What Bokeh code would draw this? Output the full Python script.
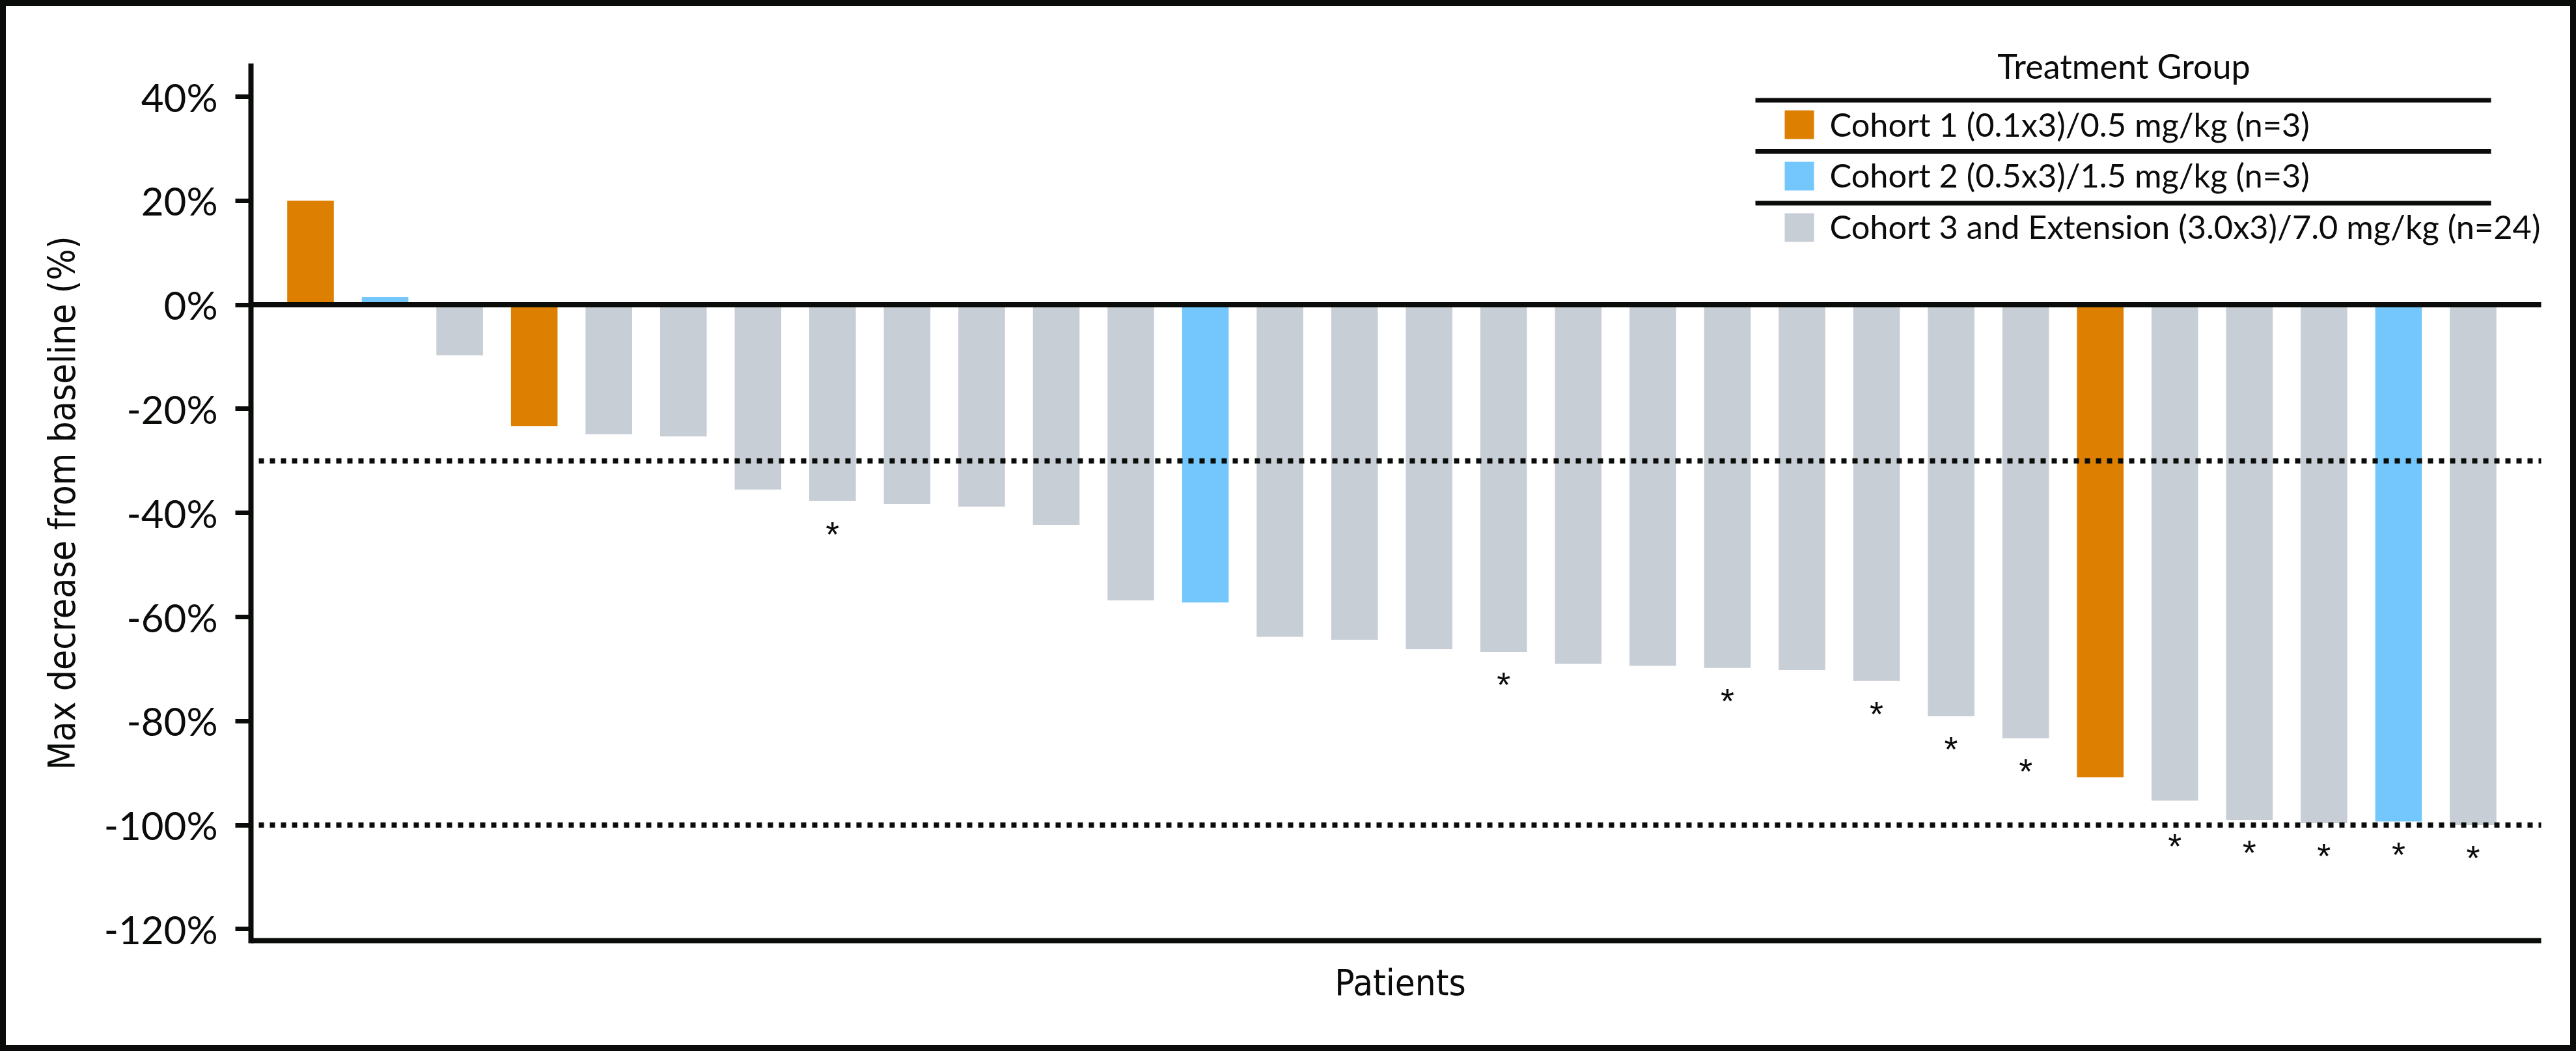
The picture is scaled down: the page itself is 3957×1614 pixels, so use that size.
from bokeh.plotting import figure
from bokeh.models import Range1d, FixedTicker, ColumnDataSource, Label
from bokeh.core.properties import value
from bokeh.embed import file_html
from bokeh.resources import INLINE

# ---------------- data ----------------
max_change = [20.0, 1.5, -9.7, -23.3, -24.9, -25.3, -35.5, -37.7, -38.3, -38.8,
              -42.3, -56.8, -57.2, -63.8, -64.4, -66.2, -66.7, -69.0, -69.4, -69.8,
              -70.2, -72.3, -79.1, -83.3, -90.8, -95.3, -99.0, -99.6, -99.3, -100.0]
cohort = [1, 2, 3, 1, 3, 3, 3, 3, 3, 3,
          3, 3, 2, 3, 3, 3, 3, 3, 3, 3,
          3, 3, 3, 3, 1, 3, 3, 3, 2, 3]
starred = [0, 0, 0, 0, 0, 0, 0, 1, 0, 0,
           0, 0, 0, 0, 0, 0, 1, 0, 0, 1,
           0, 1, 1, 1, 0, 1, 1, 1, 1, 1]
cohort_names = ["Cohort 1 (0.1x3)/0.5 mg/kg (n=3)",
                "Cohort 2 (0.5x3)/1.5 mg/kg (n=3)",
                "Cohort 3 and Extension (3.0x3)/7.0 mg/kg (n=24)"]
cohort_colors = ["#DD7F00", "#74C7FD", "#C8CED6"]
y_ticks = [-120, -100, -80, -60, -40, -20, 0, 20, 40]
y_tick_labels = ["-120%", "-100%", "-80%", "-60%", "-40%", "-20%", "0%", "20%", "40%"]
thresholds = [-30, -100]
legend_title = "Treatment Group"
x_label = "Patients"
y_label = "Max decrease from baseline (%)"

# ---------------- layout helpers (reference pixel geometry) ----------------
BLACK = "#0a0c0a"
FRAME = 9                  # black picture frame width
X0, DX = 476.5, 114.55     # pixel of first bar centre, bar pitch
Y0, DY = 467.6, 7.99       # pixel of 0 %, pixels per 1 %
AL, AR, AT, AB = 385, 3903, 101, 1444   # axes extent (reference pixels)
FT, FR, FB = 76, 3916, 1468             # plot frame (room for legend, centred labels)


def dx(px):
    return (px - X0) / DX


def dy(py):
    return (Y0 - py) / DY


W, H = 3957 - 2 * FRAME, 1614 - 2 * FRAME
p = figure(width=W, height=H, output_backend="svg", toolbar_location=None,
           x_range=Range1d(dx(AL), dx(FR)), y_range=Range1d(dy(FB), dy(FT)),
           min_border_left=AL - FRAME, min_border_right=W - (FR - FRAME),
           min_border_top=FT - FRAME, min_border_bottom=H - (FB - FRAME))
p.xgrid.visible = False
p.ygrid.visible = False
p.outline_line_color = None
p.background_fill_color = "white"
p.border_fill_color = "white"
p.styles = {"margin": f"{FRAME}px", "outline": f"{FRAME}px solid #0a0c0a"}

COND_FONT = "DejaVu Sans Condensed, Roboto, sans-serif"
TEXT_FONT = "Lato"

# x axis (line drawn as a glyph at the bottom of the axes, label from the axis)
xa = p.xaxis[0]
xa.ticker = FixedTicker(ticks=[])
xa.axis_line_color = None
xa.major_tick_out = 0
xa.major_tick_in = 0
xa.minor_tick_line_color = None
xa.major_label_text_font_size = "0px"
xa.axis_label = x_label
xa.axis_label_text_font = COND_FONT
xa.axis_label_text_font_size = "56px"
xa.axis_label_text_font_style = "normal"
xa.axis_label_text_color = BLACK
xa.axis_label_standoff = 7

# y axis
ya = p.yaxis[0]
ya.bounds = (dy(AB), dy(AT))
ya.ticker = FixedTicker(ticks=y_ticks)
ya.major_label_overrides = {t: l for t, l in zip(y_ticks, y_tick_labels)}
ya.major_label_text_font = TEXT_FONT
ya.major_label_text_font_size = "60px"
ya.major_label_text_color = BLACK
ya.major_label_standoff = 27
ya.major_tick_out = 24
ya.major_tick_in = 0
ya.major_tick_line_width = 7
ya.major_tick_line_color = BLACK
ya.minor_tick_line_color = None
ya.axis_line_width = 8
ya.axis_line_color = BLACK
ya.axis_line_cap = "square"
ya.axis_label = y_label
ya.axis_label_text_font = COND_FONT
ya.axis_label_text_font_size = "56.5px"
ya.axis_label_text_font_style = "normal"
ya.axis_label_text_color = BLACK
ya.axis_label_standoff = 29

# bars
idx = list(range(len(max_change)))
src = ColumnDataSource(dict(
    x=idx,
    top=max_change,
    color=[cohort_colors[c - 1] for c in cohort],
))
p.vbar(x="x", top="top", bottom=0, width=0.625, source=src,
       fill_color="color", line_color=None)

# bottom axis line
p.segment(x0=[dx(AL)], x1=[dx(AR)], y0=[dy(AB)], y1=[dy(AB)],
          line_color=BLACK, line_width=8)

# reference lines (dotted thresholds, solid zero line) limited to the axes extent
p.segment(x0=[dx(AL + 12)] * len(thresholds), x1=[dx(AR)] * len(thresholds),
          y0=thresholds, y1=thresholds, line_color=BLACK, line_width=8,
          line_dash="8 9")
p.segment(x0=[dx(AL)], x1=[dx(AR)], y0=[0], y1=[0], line_color=BLACK, line_width=8)

# asterisks below marked bars
star_x, star_y = [], []
for i, (v, s) in enumerate(zip(max_change, starred)):
    if s:
        y = v - 5.0
        if -102.7 < y < -97.0:
            y = -102.7
        star_x.append(i)
        star_y.append(y - 1.3)
p.text(x=star_x, y=star_y, text=["*"] * len(star_x), text_font=value("Liberation Sans"),
       text_font_size="54px", text_align="center", text_baseline="middle",
       text_color=BLACK)

# legend (drawn by hand: title, separators, swatches, labels)
p.add_layout(Label(x=dx(3262), y=dy(100), text=legend_title, text_font=TEXT_FONT,
                   text_font_size="52px", text_align="center", text_baseline="middle",
                   text_color=BLACK))
sep_y = [dy(153.5), dy(232), dy(311.5)]
p.segment(x0=[dx(2696)] * 3, x1=[dx(3826)] * 3, y0=sep_y, y1=sep_y,
          line_color=BLACK, line_width=7)
p.quad(left=[dx(2741)] * 3, right=[dx(2786)] * 3,
       top=[dy(169), dy(248), dy(327)], bottom=[dy(213), dy(292), dy(371)],
       fill_color=cohort_colors, line_color=None)
for name, cy in zip(cohort_names, [189.5, 268, 346.5]):
    p.add_layout(Label(x=dx(2810), y=dy(cy), text=name, text_font=TEXT_FONT,
                       text_font_size="50.5px", text_align="left", text_baseline="middle",
                       text_color=BLACK))

open("out.html", "w").write(file_html(p, INLINE))
